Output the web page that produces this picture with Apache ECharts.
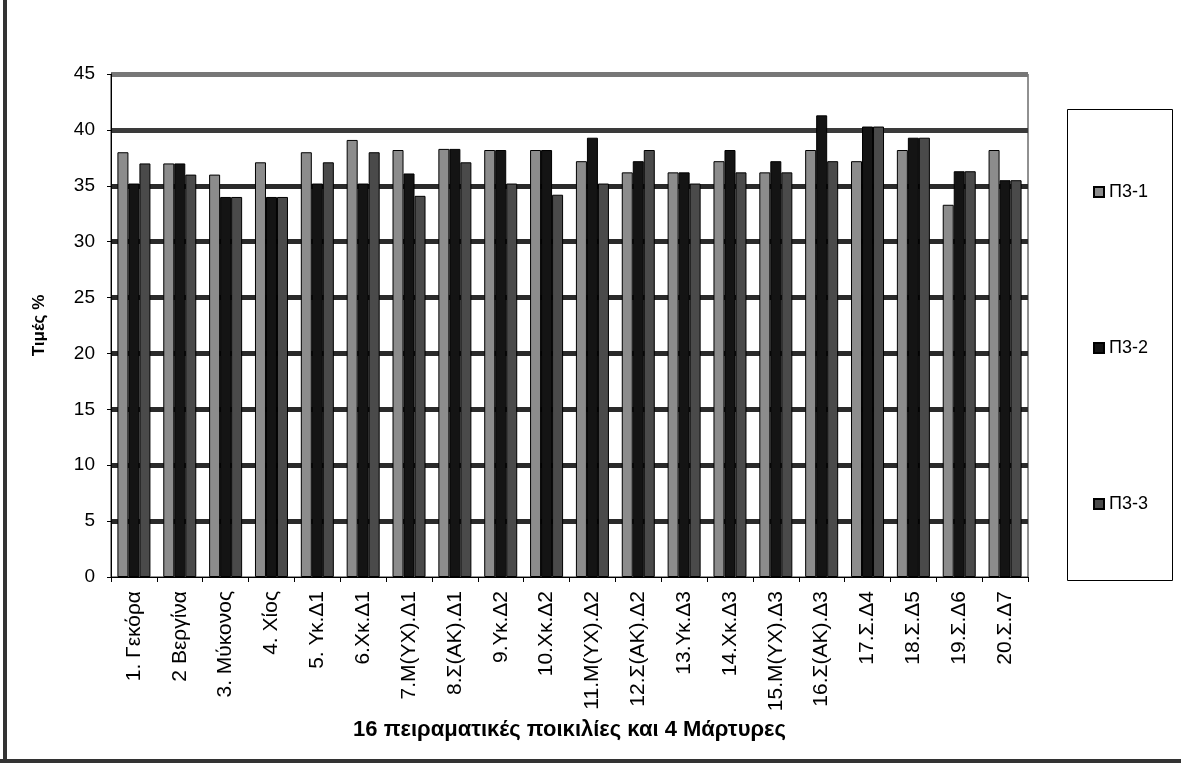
<!DOCTYPE html>
<html>
<head>
<meta charset="utf-8">
<title>Τιμές %</title>
<script src="https://cdn.jsdelivr.net/npm/echarts@6/dist/echarts.min.js"></script>
<style>
  html, body { margin: 0; padding: 0; background: #fff; }
  #chart { width: 1181px; height: 768px; }
</style>
</head>
<body>
<div id="chart"></div>
<script>
// categories and values
const categories = [
  '1. Γεκόρα', '2 Βεργίνα', '3. Μύκονος', '4. Χίος', '5. Υκ.Δ1',
  '6.Χκ.Δ1', '7.Μ(ΥΧ).Δ1', '8.Σ(ΑΚ).Δ1', '9.Υκ.Δ2', '10.Χκ.Δ2',
  '11.Μ(ΥΧ).Δ2', '12.Σ(ΑΚ).Δ2', '13.Υκ.Δ3', '14.Χκ.Δ3', '15.Μ(ΥΧ).Δ3',
  '16.Σ(ΑΚ).Δ3', '17.Σ.Δ4', '18.Σ.Δ5', '19.Σ.Δ6', '20.Σ.Δ7'
];
const seriesNames = ['Π3-1', 'Π3-2', 'Π3-3'];
const pz1 = [38, 37, 36, 37.1, 38, 39.1, 38.2, 38.3, 38.2, 38.2, 37.2, 36.2, 36.2, 37.2, 36.2, 38.2, 37.2, 38.2, 33.3, 38.2];
const pz2 = [35.2, 37, 34, 34, 35.2, 35.2, 36.1, 38.3, 38.2, 38.2, 39.3, 37.2, 36.2, 38.2, 37.2, 41.3, 40.3, 39.3, 36.3, 35.5];
const pz3 = [37, 36, 34, 34, 37.1, 38, 34.1, 37.1, 35.2, 34.2, 35.2, 38.2, 35.2, 36.2, 36.2, 37.2, 40.3, 39.3, 36.3, 35.5];
const yTicks = [0, 5, 10, 15, 20, 25, 30, 35, 40, 45];

const font = '"Liberation Sans", Arial, sans-serif';
const chart = echarts.init(document.getElementById('chart'));

const barStyle = (color) => ({
  color: color,
  borderColor: '#000',
  borderWidth: 1
});

const option = {
  backgroundColor: '#fff',
  animation: false,
  textStyle: { fontFamily: font, color: '#000' },
  grid: {
    left: 111,
    right: 153,
    top: 74,
    bottom: 191,
    show: true,
    borderColor: '#222',
    borderWidth: 1,
    backgroundColor: 'transparent'
  },
  legend: {
    orient: 'vertical',
    left: 1088,
    top: 177,
    itemGap: 136,
    itemWidth: 10,
    itemHeight: 10,
    icon: 'rect',
    textStyle: { fontSize: 18, lineHeight: 20, fontFamily: font, color: '#000' },
    data: seriesNames
  },
  xAxis: {
    type: 'category',
    data: categories,
    name: '16 πειραματικές ποικιλίες και 4 Μάρτυρες',
    nameLocation: 'middle',
    nameGap: 142,
    nameTextStyle: { fontSize: 22, fontWeight: 'bold', fontFamily: font, color: '#000' },
    axisLine: { lineStyle: { color: '#000', width: 1 } },
    axisTick: { show: true, length: 5, lineStyle: { color: '#000' } },
    axisLabel: { rotate: 90, fontSize: 21, margin: 14, color: '#000', interval: 0 }
  },
  yAxis: {
    type: 'value',
    min: yTicks[0],
    max: yTicks[yTicks.length - 1],
    interval: 5,
    name: 'Τιμές %',
    nameLocation: 'middle',
    nameGap: 63,
    nameRotate: 90,
    nameTextStyle: { fontSize: 17, fontWeight: 'bold', fontFamily: font, color: '#000' },
    axisLine: { show: true, lineStyle: { color: '#000', width: 1 } },
    axisTick: { show: true, length: 4, lineStyle: { color: '#000' } },
    axisLabel: { fontSize: 19, margin: 16, color: '#000' },
    splitLine: {
      show: true,
      lineStyle: {
        width: 5,
        color: ['rgba(0,0,0,0)', '#2a2a2a', '#2a2a2a', '#2a2a2a', '#2a2a2a', '#2a2a2a', '#2a2a2a', '#2a2a2a', '#3a3a3a', '#777']
      }
    }
  },
  series: [
    { name: seriesNames[0], type: 'bar', data: pz1, barGap: '0%', barCategoryGap: '28%', itemStyle: barStyle('#8c8c8c') },
    { name: seriesNames[1], type: 'bar', data: pz2, barGap: '0%', barCategoryGap: '28%', itemStyle: barStyle('#141414') },
    { name: seriesNames[2], type: 'bar', data: pz3, barGap: '0%', barCategoryGap: '28%', itemStyle: barStyle('#4a4a4a') }
  ],
  graphic: [
    // legend frame
    { type: 'rect', left: 1067, top: 109, shape: { width: 105, height: 471 },
      style: { fill: 'transparent', stroke: '#000', lineWidth: 1 }, z: -1 },
    // scanned page frame: left and bottom edges
    { type: 'rect', left: 3, top: 0, shape: { width: 4, height: 762 },
      style: { fill: '#333' } },
    { type: 'rect', left: 0, top: 759, shape: { width: 1181, height: 4 },
      style: { fill: '#333' } }
  ]
};

chart.setOption(option);
</script>
</body>
</html>
